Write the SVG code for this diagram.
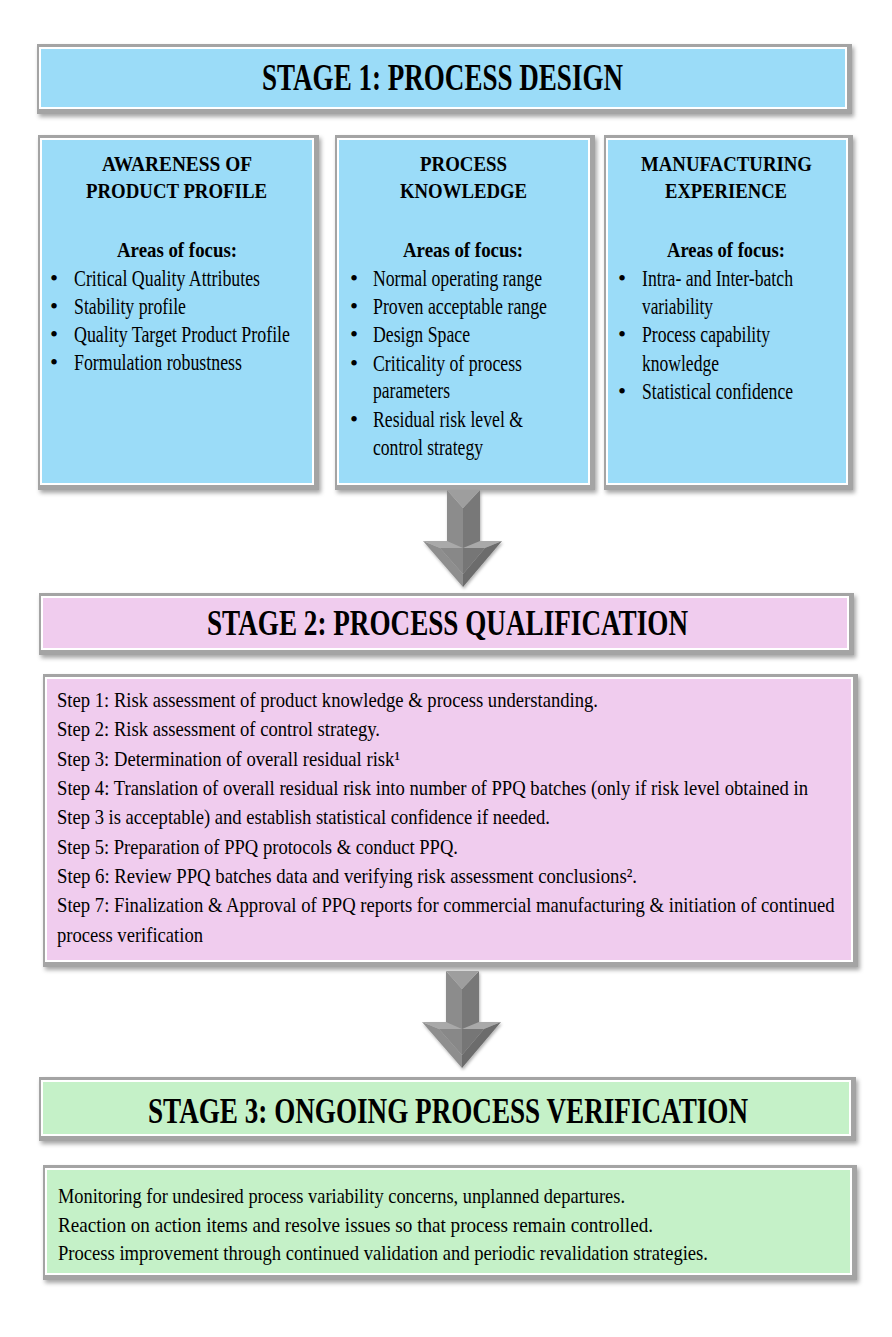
<svg xmlns="http://www.w3.org/2000/svg" width="892" height="1337" viewBox="0 0 892 1337">
<defs>
<filter id="sh" x="-5%" y="-10%" width="110%" height="130%">
<feDropShadow dx="2" dy="3" stdDeviation="2" flood-color="#000" flood-opacity="0.35"/>
</filter>
<filter id="ash" x="-20%" y="-10%" width="140%" height="130%">
<feDropShadow dx="1" dy="2" stdDeviation="1.5" flood-color="#000" flood-opacity="0.3"/>
</filter>
<g id="arrow">
<polygon points="0,51 79,51 62,58 40,84 17,58" fill="#A9A9A9"/>
<polygon points="0,51 17,58 40,84 40,97" fill="#8E8E8E"/>
<polygon points="79,51 62,58 40,84 40,97" fill="#6C6C6C"/>
<polygon points="17,58 40,58 40,84" fill="#888"/>
<polygon points="40,58 62,58 40,84" fill="#767676"/>
<polygon points="24,0 40,18 40,58 24,51" fill="#8C8C8C"/>
<polygon points="57,0 40,18 40,58 57,51" fill="#787878"/>
<polygon points="24,0 57,0 40,18" fill="#9E9E9E"/>
</g>
</defs>
<style>
.frame{fill:#A4A4A4}
.inner{fill:#FFFFFF}
.blue{fill:#9BDCF8}
.pink{fill:#F0CCEE}
.green{fill:#C5F1C8}
text{font-family:"Liberation Serif","Times New Roman",serif;fill:#000}
.title{font-weight:bold;font-size:38px}
.title2{font-weight:bold;font-size:35px}
.head{font-weight:bold;font-size:22px}
.item{font-size:23px}
.body{font-size:22px}
</style>
<rect width="892" height="1337" fill="#FFFFFF"/>

<g id="stage1-header">
<rect class="frame" x="37" y="44" width="815" height="70" filter="url(#sh)"/>
<rect class="inner" x="39" y="47" width="808" height="62"/>
<rect class="blue" x="41" y="49" width="804" height="58"/>
<text class="title" x="262" y="90" textLength="361" lengthAdjust="spacingAndGlyphs">STAGE 1: PROCESS DESIGN</text>
</g>

<g id="product-profile">
<rect class="frame" x="38" y="135" width="281" height="355" filter="url(#sh)"/>
<rect class="inner" x="40" y="138" width="274" height="347"/>
<rect class="blue" x="42" y="140" width="270" height="343"/>
<text class="head" x="102" y="171" textLength="150" lengthAdjust="spacingAndGlyphs">AWARENESS OF</text>
<text class="head" x="86" y="198" textLength="181" lengthAdjust="spacingAndGlyphs">PRODUCT PROFILE</text>
<text class="head" x="117" y="257" textLength="120" lengthAdjust="spacingAndGlyphs">Areas of focus:</text>
<text class="item" x="50" y="286">•</text>
<text class="item" x="74" y="286" textLength="186" lengthAdjust="spacingAndGlyphs">Critical Quality Attributes</text>
<text class="item" x="50" y="314">•</text>
<text class="item" x="74" y="314" textLength="112" lengthAdjust="spacingAndGlyphs">Stability profile</text>
<text class="item" x="50" y="342">•</text>
<text class="item" x="74" y="342" textLength="216" lengthAdjust="spacingAndGlyphs">Quality Target Product Profile</text>
<text class="item" x="50" y="370">•</text>
<text class="item" x="74" y="370" textLength="168" lengthAdjust="spacingAndGlyphs">Formulation robustness</text>
</g>

<g id="process-knowledge">
<rect class="frame" x="335" y="135" width="260" height="355" filter="url(#sh)"/>
<rect class="inner" x="337" y="138" width="253" height="347"/>
<rect class="blue" x="339" y="140" width="249" height="343"/>
<text class="head" x="420" y="171" textLength="87" lengthAdjust="spacingAndGlyphs">PROCESS</text>
<text class="head" x="400" y="198" textLength="127" lengthAdjust="spacingAndGlyphs">KNOWLEDGE</text>
<text class="head" x="403" y="257" textLength="120" lengthAdjust="spacingAndGlyphs">Areas of focus:</text>
<text class="item" x="350" y="286">•</text>
<text class="item" x="373" y="286" textLength="169" lengthAdjust="spacingAndGlyphs">Normal operating range</text>
<text class="item" x="350" y="314">•</text>
<text class="item" x="373" y="314" textLength="174" lengthAdjust="spacingAndGlyphs">Proven acceptable range</text>
<text class="item" x="350" y="342">•</text>
<text class="item" x="373" y="342" textLength="97" lengthAdjust="spacingAndGlyphs">Design Space</text>
<text class="item" x="350" y="371">•</text>
<text class="item" x="373" y="371" textLength="149" lengthAdjust="spacingAndGlyphs">Criticality of process</text>
<text class="item" x="373" y="398" textLength="77" lengthAdjust="spacingAndGlyphs">parameters</text>
<text class="item" x="350" y="427">•</text>
<text class="item" x="373" y="427" textLength="150" lengthAdjust="spacingAndGlyphs">Residual risk level &amp;</text>
<text class="item" x="373" y="455" textLength="110" lengthAdjust="spacingAndGlyphs">control strategy</text>
</g>

<g id="manufacturing-experience">
<rect class="frame" x="604" y="135" width="249" height="355" filter="url(#sh)"/>
<rect class="inner" x="606" y="138" width="242" height="347"/>
<rect class="blue" x="608" y="140" width="238" height="343"/>
<text class="head" x="641" y="171" textLength="171" lengthAdjust="spacingAndGlyphs">MANUFACTURING</text>
<text class="head" x="665" y="198" textLength="122" lengthAdjust="spacingAndGlyphs">EXPERIENCE</text>
<text class="head" x="667" y="257" textLength="118" lengthAdjust="spacingAndGlyphs">Areas of focus:</text>
<text class="item" x="618" y="286">•</text>
<text class="item" x="642" y="286" textLength="151" lengthAdjust="spacingAndGlyphs">Intra- and Inter-batch</text>
<text class="item" x="642" y="314" textLength="71" lengthAdjust="spacingAndGlyphs">variability</text>
<text class="item" x="618" y="342">•</text>
<text class="item" x="642" y="342" textLength="128" lengthAdjust="spacingAndGlyphs">Process capability</text>
<text class="item" x="642" y="371" textLength="77" lengthAdjust="spacingAndGlyphs">knowledge</text>
<text class="item" x="618" y="399">•</text>
<text class="item" x="642" y="399" textLength="151" lengthAdjust="spacingAndGlyphs">Statistical confidence</text>
</g>

<g id="stage2-header">
<rect class="frame" x="39" y="593" width="815" height="62" filter="url(#sh)"/>
<rect class="inner" x="41" y="596" width="808" height="54"/>
<rect class="pink" x="43" y="598" width="804" height="50"/>
<text class="title2" x="207" y="635" textLength="481" lengthAdjust="spacingAndGlyphs">STAGE 2: PROCESS QUALIFICATION</text>
</g>

<g id="stage2-steps">
<rect class="frame" x="43" y="674" width="815" height="293" filter="url(#sh)"/>
<rect class="inner" x="45" y="677" width="808" height="285"/>
<rect class="pink" x="47" y="679" width="804" height="281"/>
<text class="body" x="57" y="707" textLength="541" lengthAdjust="spacingAndGlyphs">Step 1: Risk assessment of product knowledge &amp; process understanding.</text>
<text class="body" x="57" y="736" textLength="323" lengthAdjust="spacingAndGlyphs">Step 2: Risk assessment of control strategy.</text>
<text class="body" x="57" y="766" textLength="343" lengthAdjust="spacingAndGlyphs">Step 3: Determination of overall residual risk¹</text>
<text class="body" transform="translate(57,795) scale(0.78,1)" x="0" y="0" textLength="963" lengthAdjust="spacingAndGlyphs">Step 4: Translation of overall residual risk into number of PPQ batches (only if risk level obtained in</text>
<text class="body" x="57" y="824" textLength="493" lengthAdjust="spacingAndGlyphs">Step 3 is acceptable) and establish statistical confidence if needed.</text>
<text class="body" x="57" y="854" textLength="401" lengthAdjust="spacingAndGlyphs">Step 5: Preparation of PPQ protocols &amp; conduct PPQ.</text>
<text class="body" x="57" y="883" textLength="580" lengthAdjust="spacingAndGlyphs">Step 6: Review PPQ batches data and verifying risk assessment conclusions².</text>
<text class="body" transform="translate(57,912) scale(0.78,1)" x="0" y="0" textLength="997" lengthAdjust="spacingAndGlyphs">Step 7: Finalization &amp; Approval of PPQ reports for commercial manufacturing &amp; initiation of continued</text>
<text class="body" x="57" y="942" textLength="146" lengthAdjust="spacingAndGlyphs">process verification</text>
</g>

<g id="stage3-header">
<rect class="frame" x="39" y="1077" width="817" height="64" filter="url(#sh)"/>
<rect class="inner" x="41" y="1080" width="810" height="56"/>
<rect class="green" x="43" y="1082" width="806" height="52"/>
<text class="title2" transform="translate(148,1123) scale(0.8,1)" x="0" y="0" textLength="750" lengthAdjust="spacingAndGlyphs">STAGE 3: ONGOING PROCESS VERIFICATION</text>
</g>

<g id="stage3-activities">
<rect class="frame" x="43" y="1165" width="814" height="115" filter="url(#sh)"/>
<rect class="inner" x="45" y="1168" width="807" height="107"/>
<rect class="green" x="47" y="1170" width="803" height="103"/>
<text class="body" x="58" y="1203" textLength="567" lengthAdjust="spacingAndGlyphs">Monitoring for undesired process variability concerns, unplanned departures.</text>
<text class="body" x="58" y="1232" textLength="595" lengthAdjust="spacingAndGlyphs">Reaction on action items and resolve issues so that process remain controlled.</text>
<text class="body" x="58" y="1260" textLength="650" lengthAdjust="spacingAndGlyphs">Process improvement through continued validation and periodic revalidation strategies.</text>
</g>

<g id="connectors">
<use href="#arrow" transform="translate(423,490)" filter="url(#ash)"/>
<use href="#arrow" transform="translate(422,971)" filter="url(#ash)"/>
</g>
</svg>
